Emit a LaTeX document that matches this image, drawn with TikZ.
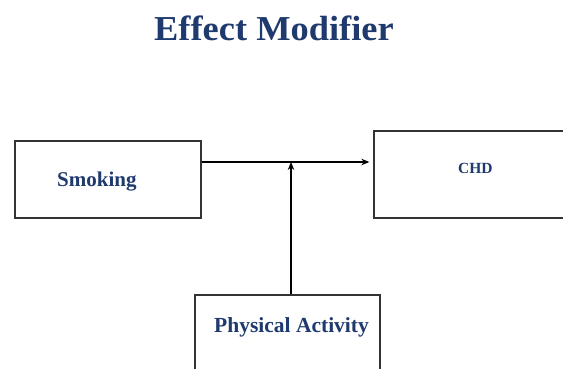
\documentclass[tikz,border=0pt]{standalone}
\usepackage{fontspec}
\setmainfont{Liberation Serif}
\usetikzlibrary{arrows.meta}
\definecolor{navy}{HTML}{1F3A6E}
\definecolor{boxline}{HTML}{333333}
\begin{document}
\begin{tikzpicture}[x=1pt,y=1pt,
  box/.style={draw=boxline,line width=1.3pt,inner sep=0pt,fill=white},
  lbl/.style={text=navy,font=\bfseries,inner sep=0pt,anchor=base west},
  conn/.style={draw=black,line width=1.1pt,-{Stealth[length=8pt,width=6.5pt]}}]
\useasboundingbox (0,0) rectangle (563,368);
\fill[white] (0,0) rectangle (563,368);
\node[lbl,font=\bfseries\fontsize{35}{40}\selectfont,xscale=1.04] (title) at (154,328) {Effect Modifier};
\node[box,minimum width=186pt,minimum height=77pt] (smoking) at (108,188.5) {};
\node[box,minimum width=190pt,minimum height=87pt] (chd) at (469,193.5) {};
\node[box,minimum width=185pt,minimum height=80pt] (pa) at (287.5,33) {};
\node[lbl,font=\bfseries\fontsize{21}{24}\selectfont] (tsmoking) at (57,182) {Smoking};
\node[lbl,font=\bfseries\fontsize{15.5}{18}\selectfont] (tchd) at (458,195) {CHD};
\node[lbl,font=\bfseries\fontsize{21.5}{25}\selectfont] (tpa) at (214,36) {Physical Activity};
\coordinate (s) at (smoking.east |- 0,206);
\coordinate (e) at (chd.west |- 0,206);
\coordinate (j) at (291,206);
\coordinate (p) at (291,0 |- pa.north);
\draw[conn] (s) -- ([xshift=-4pt]e);
\draw[conn] (p) -- (j);
\end{tikzpicture}
\end{document}
